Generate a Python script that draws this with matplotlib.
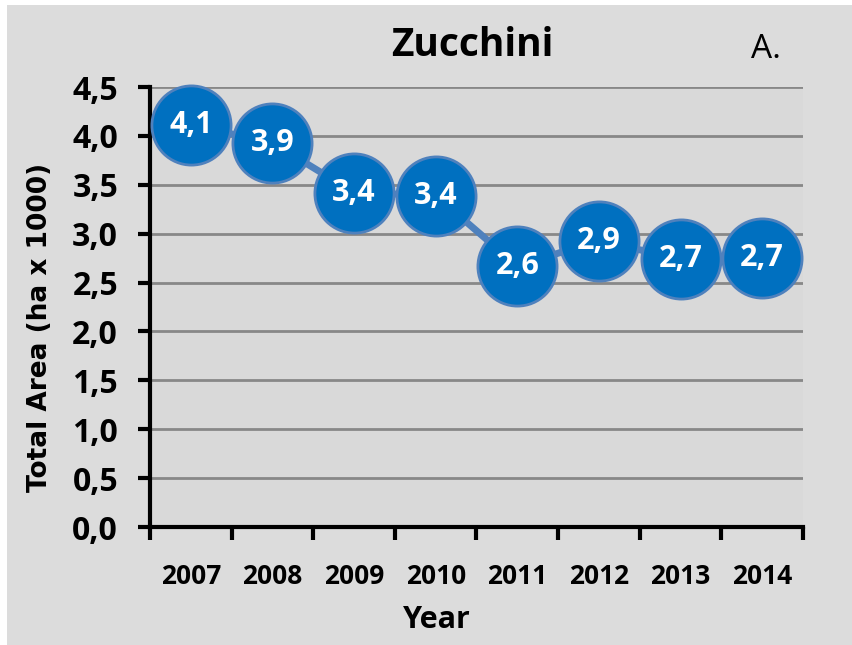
import matplotlib.pyplot as plt
from matplotlib.patches import Rectangle

years = ['2007', '2008', '2009', '2010', '2011', '2012', '2013', '2014']
area = [4.11, 3.93, 3.42, 3.39, 2.67, 2.93, 2.74, 2.75]
labels = ['4,1', '3,9', '3,4', '3,4', '2,6', '2,9', '2,7', '2,7']
yticks = [0, 0.5, 1.0, 1.5, 2.0, 2.5, 3.0, 3.5, 4.0, 4.5]

plt.rcParams['font.family'] = ['Open Sans', 'DejaVu Sans']

fig = plt.figure(figsize=(8.53, 6.45), dpi=100, facecolor='white')
bg = Rectangle((7 / 853, 0), 1, 1 - 5 / 645, transform=fig.transFigure,
               facecolor='#dcdcdc', edgecolor='none', zorder=-10)
fig.add_artist(bg)
ax = fig.add_axes([150 / 853, 1 - 527 / 645, (803 - 150) / 853, (527 - 87) / 645])
ax.set_zorder(1)
ax.set_facecolor('#d9d9d9')

x = list(range(len(years)))
ax.plot(x, area, color='#4f81bd', lw=5, zorder=3, clip_on=False,
        marker='o', markersize=57, markerfacecolor='#0070c0',
        markeredgecolor='#4f81bd', markeredgewidth=2)
for xi, yi, lab in zip(x, area, labels):
    ax.text(xi, yi, lab, color='white', fontsize=22, fontweight='bold',
            ha='center', va='center', zorder=4)

ax.set_xlim(-0.5, 7.5)
ax.set_ylim(0, 4.5)
ax.set_yticks(yticks)
ax.set_yticklabels([f'{v:.1f}'.replace('.', ',') for v in yticks],
                   fontsize=23, fontweight='bold')
ax.yaxis.grid(True, color='#888888', lw=2)
ax.set_axisbelow(True)

ax.set_xticks([i - 0.5 for i in range(len(years) + 1)])
ax.set_xticklabels([])
ax.set_xticks(x, minor=True)
ax.set_xticklabels(years, minor=True, fontsize=19, fontweight='bold')
ax.tick_params(axis='x', which='major', direction='out', length=9, width=3)
ax.tick_params(axis='x', which='minor', length=0, pad=26)
ax.tick_params(axis='y', direction='out', length=9, width=3, pad=14)

for s in ['top', 'right']:
    ax.spines[s].set_visible(False)
for s in ['left', 'bottom']:
    ax.spines[s].set_linewidth(3)

ax.set_xlabel('Year', fontsize=22, fontweight='bold', va='center')
ax.xaxis.set_label_coords((437 - 150) / 653, (527 - 620) / 440)
ax.set_ylabel('Total Area (ha x 1000)', fontsize=19, fontweight='bold',
              family=['DejaVu Sans'], va='center', ha='center')
ax.yaxis.set_label_coords((40 - 150) / 653, (527 - 327) / 440)

fig.text(472 / 853, 1 - 45 / 645, 'Zucchini', fontsize=28, fontweight='bold',
         ha='center', va='center')
fig.text(766 / 853, 1 - 50 / 645, 'A.', fontsize=24, ha='center', va='center')

fig.savefig('out.png', dpi=100, facecolor=fig.get_facecolor())
